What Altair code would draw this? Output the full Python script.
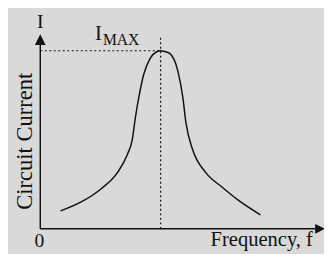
import altair as alt
import pandas as pd

# Resonance curve (frequency vs circuit current), arbitrary units
frequency = [20.7, 42.3, 62.3, 79, 89, 94, 97.3, 100.7, 105.7, 112.3, 119, 123,
             127, 132.3, 140.7, 145.7, 149, 155.7, 169, 185.7, 202.3, 225]
current = [18.3, 27.7, 41, 57.7, 76, 91, 114.3, 134.3, 157.7, 174.3, 181, 182,
           181.3, 179.3, 161, 134.3, 107.7, 81, 57.7, 42.7, 29.3, 14.3]

f_res = 123
i_max = 182
x_max = 290
y_max = 198

FONT = "Liberation Serif"
INK = "#111111"

xs = alt.Scale(domain=[0, x_max], nice=False, zero=False)
ys = alt.Scale(domain=[0, y_max], nice=False, zero=False)
X = lambda f="x": alt.X(f"{f}:Q", scale=xs, axis=None)
Y = lambda f="y": alt.Y(f"{f}:Q", scale=ys, axis=None)

curve_df = pd.DataFrame({"x": frequency, "y": current})
curve = alt.Chart(curve_df).mark_line(
    interpolate="monotone", color=INK, strokeWidth=1.5
).encode(x=X(), y=Y())

axes_df = pd.DataFrame({"x": [0, 0], "x2": [0, 281], "y": [0, 0], "y2": [188, 0]})
axes = alt.Chart(axes_df).mark_rule(color=INK, strokeWidth=1.5).encode(
    x=X(), x2="x2:Q", y=Y(), y2="y2:Q"
)

dots_df = pd.DataFrame({"x": [0, f_res], "x2": [f_res, f_res],
                        "y": [i_max, 0], "y2": [i_max, 196]})
dots = alt.Chart(dots_df).mark_rule(
    color=INK, strokeWidth=1.2, strokeDash=[2, 2.6]
).encode(x=X(), x2="x2:Q", y=Y(), y2="y2:Q")

up_arrow = alt.Chart(pd.DataFrame({"x": [0], "y": [193.5]})).mark_point(
    shape="M0,-1L1,1L-1,1Z", size=121, filled=True, color=INK, opacity=1
).encode(x=X(), y=Y())

right_arrow = alt.Chart(pd.DataFrame({"x": [286], "y": [0]})).mark_point(
    shape="M1,0L-1,-1L-1,1Z", size=100, filled=True, color=INK, opacity=1
).encode(x=X(), y=Y())

def label(text, x, y, size, align="left", angle=0):
    return alt.Chart(pd.DataFrame({"x": [x], "y": [y], "t": [text]})).mark_text(
        font=FONT, fontSize=size, color=INK, align=align, baseline="alphabetic",
        angle=angle
    ).encode(x=X(), y=Y(), text="t:N")

texts = [
    label("I", 0, 205, 20, align="center"),
    label("I", 56, 193, 21),
    label("MAX", 64, 188, 16),
    label("0", -1, -19, 20, align="center"),
    label("Frequency, f", 174, -18, 21),
    label("Circuit Current", -8, 89.5, 23, align="center", angle=270),
]

chart = alt.layer(curve, axes, dots, up_arrow, right_arrow, *texts).properties(
    width=x_max, height=y_max,
    autosize=alt.AutoSizeParams(type="none"),
    padding={"left": 33, "top": 25, "right": 0, "bottom": 23},
    background="#d9d9d9",
).configure_view(stroke=None)

chart.save("out.html", embed_options={"renderer": "svg", "actions": False})
